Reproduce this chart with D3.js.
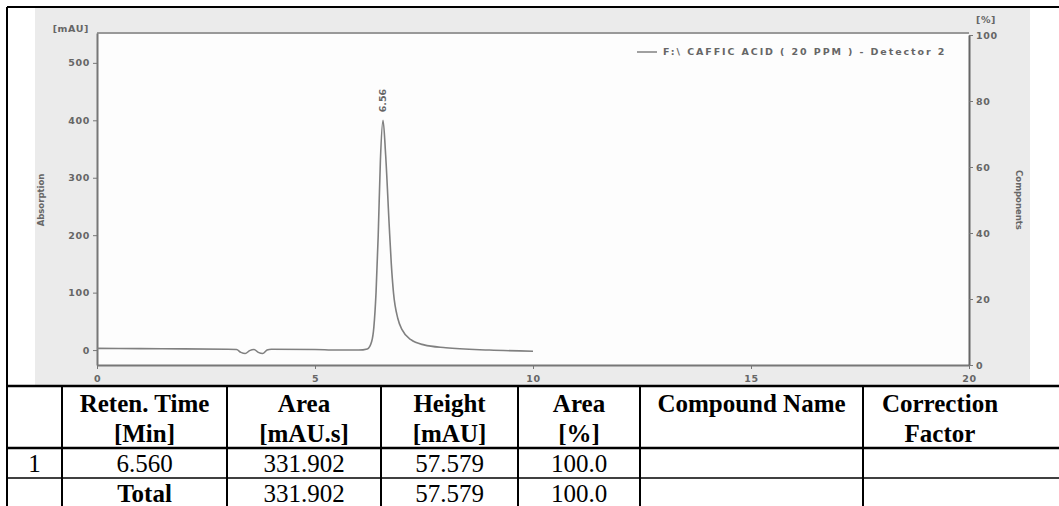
<!DOCTYPE html>
<html>
<head>
<meta charset="utf-8">
<script src="https://cdn.jsdelivr.net/npm/d3@7"></script>
<style>
  body { margin: 0; background: #fff; }
  svg text { font-family: "DejaVu Sans", sans-serif; }
  .tbl text { font-family: "Liberation Serif", "Times New Roman", serif; fill: #000; }
</style>
</head>
<body>
<div id="chart"></div>
<script>
// chromatogram trace, time in min and absorption in mAU
const times = [0, 1, 2, 3, 3.2, 3.3, 3.4, 3.5, 3.6, 3.7, 3.8, 3.9, 4.0, 5, 5.5, 6.0, 6.2, 6.3, 6.35, 6.4, 6.45, 6.5, 6.56, 6.62, 6.7, 6.75, 6.8, 6.9, 7.0, 7.2, 7.5, 8, 9, 10];
const absorb = [3, 2.5, 2, 1.5, 1, -4, -6, -1, 1, -4, -6, 0, 1.5, 1, 0, 0, 2, 15, 40, 100, 200, 330, 400, 340, 220, 150, 100, 55, 35, 18, 9, 4, 0, -2];

const xTicks = [0, 5, 10, 15, 20];
const yTicks = [0, 100, 200, 300, 400, 500];
const pctTicks = [0, 20, 40, 60, 80, 100];

const peakTimes = [6.56];
const peakHeights = [400];

const legendLabel = "F:\\ CAFFIC ACID ( 20 PPM ) - Detector 2";

const tableHeader = [["", ""], ["Reten. Time", "[Min]"], ["Area", "[mAU.s]"], ["Height", "[mAU]"], ["Area", "[%]"], ["Compound Name", ""], ["Correction", "Factor"]];
const tableRows = [
  ["1", "6.560", "331.902", "57.579", "100.0", "", ""],
  ["", "Total", "331.902", "57.579", "100.0", "", ""]
];

const width = 1059, height = 506;
const svg = d3.select("#chart").append("svg").attr("width", width).attr("height", height);

const label = sel => sel.style("font-size", "9.5px").style("letter-spacing", "0.6px")
  .style("font-weight", "600").attr("fill", "#666");

// outer frame
svg.append("rect").attr("x", 35).attr("y", 8).attr("width", 995).attr("height", 377).attr("fill", "#ebebeb");
svg.append("line").attr("x1", 7).attr("x2", width).attr("y1", 7).attr("y2", 7).attr("stroke", "#000").attr("stroke-width", 2);
svg.append("line").attr("x1", 7).attr("x2", 7).attr("y1", 7).attr("y2", height).attr("stroke", "#000").attr("stroke-width", 2);

const plot = { left: 97, right: 969, top: 33, bottom: 365 };

const x = d3.scaleLinear().domain([0, 20]).range([plot.left, plot.right]);
const y = d3.scaleLinear().domain([-26, 552]).range([plot.bottom, plot.top]);
const yPct = d3.scaleLinear().domain([0, 100]).range([plot.bottom, plot.top + 2]);

svg.append("rect").attr("x", plot.left).attr("y", plot.top)
  .attr("width", plot.right - plot.left).attr("height", plot.bottom - plot.top).attr("fill", "#fdfdfd");
svg.append("line").attr("x1", plot.left).attr("x2", plot.right).attr("y1", plot.top).attr("y2", plot.top)
  .attr("stroke", "#999").attr("stroke-width", 2);

// axes
const axisStyle = g => {
  g.select(".domain").attr("stroke", "#777").attr("stroke-width", 2);
  g.selectAll(".tick line").attr("stroke", "#777");
  g.selectAll(".tick text").call(label).style("font-family", "DejaVu Sans, sans-serif");
};

svg.append("g").attr("transform", `translate(0,${plot.bottom})`)
  .call(d3.axisBottom(x).tickValues(xTicks).tickSize(4).tickSizeOuter(0))
  .call(axisStyle)
  .call(g => g.selectAll(".tick text").attr("dy", "1.1em"));

svg.append("g").attr("transform", `translate(${plot.left},0)`)
  .call(d3.axisLeft(y).tickValues(yTicks).tickSize(4).tickSizeOuter(0))
  .call(axisStyle);

svg.append("g").attr("transform", `translate(${plot.right},0)`)
  .call(d3.axisRight(yPct).tickValues(pctTicks).tickSize(4).tickSizeOuter(0))
  .call(axisStyle)
  .call(g => g.select(".domain").attr("stroke", "#666"));

// unit labels and axis titles
svg.append("text").attr("x", 89).attr("y", 32).attr("text-anchor", "end").call(label).text("[mAU]");
svg.append("text").attr("x", 976).attr("y", 23).call(label).text("[%]");
svg.append("text").attr("transform", "translate(44,200) rotate(-90)").attr("text-anchor", "middle")
  .call(label).style("font-size", "8.5px").style("letter-spacing", "0px").text("Absorption");
svg.append("text").attr("transform", "translate(1016,200) rotate(90)").attr("text-anchor", "middle")
  .call(label).style("font-size", "8.5px").style("letter-spacing", "0px").text("Components");

// trace
const points = times.map((t, i) => [t, absorb[i]]);
svg.append("path").datum(points)
  .attr("fill", "none").attr("stroke", "#808080").attr("stroke-width", 1.6)
  .attr("d", d3.line().x(d => x(d[0])).y(d => y(d[1])).curve(d3.curveMonotoneX));

// peak label
svg.selectAll(".peak").data(peakTimes).enter().append("text")
  .attr("class", "peak")
  .attr("transform", (d, i) => `translate(${x(d) + 3},${y(peakHeights[i]) - 8}) rotate(-90)`)
  .call(label).style("letter-spacing", "0px").text(d => d.toFixed(2));

// legend
svg.append("line").attr("x1", 637).attr("x2", 657).attr("y1", 52).attr("y2", 52).attr("stroke", "#808080").attr("stroke-width", 1.5);
svg.append("text").attr("x", 663).attr("y", 55).call(label).style("letter-spacing", "1.9px").text(legendLabel);

// results table
const colEdges = [7, 62, 227, 381, 518, 640, 863, 1017];
const rowEdges = [386, 448, 478, 506];
const tbl = svg.append("g").attr("class", "tbl");

rowEdges.slice(0, 3).forEach((ry, i) => {
  tbl.append("line").attr("x1", 7).attr("x2", width).attr("y1", ry).attr("y2", ry)
    .attr("stroke", "#000").attr("stroke-width", i < 2 ? 2.5 : 1.5);
});
colEdges.slice(1, 7).forEach(cx => {
  tbl.append("line").attr("x1", cx).attr("x2", cx).attr("y1", 386).attr("y2", height)
    .attr("stroke", "#000").attr("stroke-width", 2);
});

const colMid = i => (colEdges[i] + colEdges[i + 1]) / 2;

tableHeader.forEach((lines, i) => {
  lines.forEach((s, j) => {
    tbl.append("text").attr("x", colMid(i)).attr("y", 412 + j * 30).attr("text-anchor", "middle")
      .style("font-size", "25px").style("font-weight", "bold").text(s);
  });
});

tableRows.forEach((row, r) => {
  row.forEach((s, i) => {
    tbl.append("text").attr("x", colMid(i)).attr("y", rowEdges[r + 1] + 24).attr("text-anchor", "middle")
      .style("font-size", "25px").style("font-weight", s === "Total" ? "bold" : "normal").text(s);
  });
});
</script>
</body>
</html>
